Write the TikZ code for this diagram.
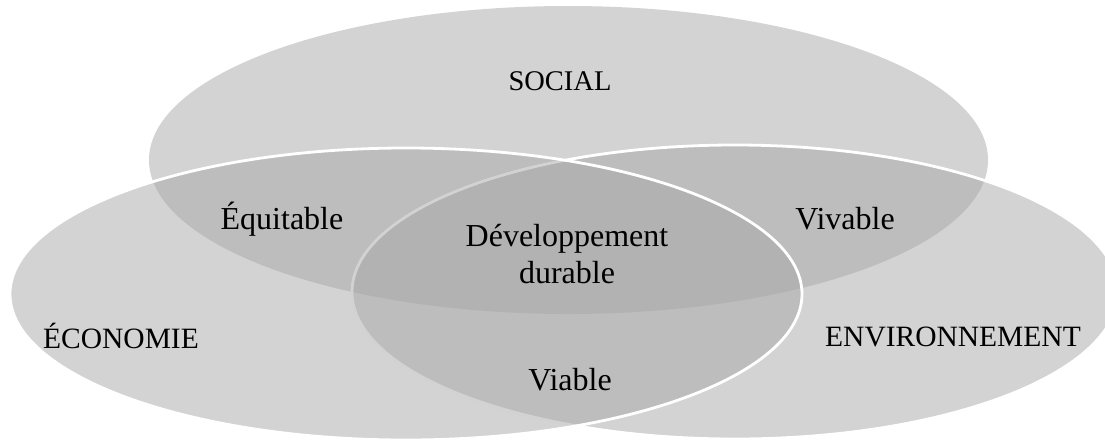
\documentclass[tikz,border=0pt]{standalone}
\usepackage{fontspec}
\setmainfont{Liberation Serif}
\definecolor{setgray}{RGB}{167,167,167}
\tikzset{
  setfill/.style={fill=setgray, fill opacity=0.5},
  rim/.style={draw=white, line width=2.8pt},
  lbl/.style={anchor=base, inner sep=0pt, text=black},
  caps/.style={font=\fontsize{29.5}{34}\selectfont},
  big/.style={font=\fontsize{32}{36}\selectfont},
}
\begin{document}
\begin{tikzpicture}[x=1pt,y=-1pt]
\useasboundingbox (0,0) rectangle (1105,439);
\clip (0,0) rectangle (1105,439);
% SOCIAL
\fill[setfill] (568.5,160) ellipse [x radius=419.5, y radius=154];
% ENVIRONNEMENT
\fill[setfill] (735,292) ellipse [x radius=383, y radius=147];
\draw[rim] (735,292) ellipse [x radius=383, y radius=147];
% ECONOMIE
\fill[setfill] (406,294) ellipse [x radius=396, y radius=146];
\draw[rim] (406,294) ellipse [x radius=396, y radius=146];
% labels
\node[lbl, caps, font=\fontsize{28.5}{34}\selectfont] (social) at (560,90) {SOCIAL};
\node[lbl, caps] (eco) at (121,348) {ÉCONOMIE};
\node[lbl, caps] (env) at (953,346) {ENVIRONNEMENT};
\node[lbl, big] (equ) at (282,229) {Équitable};
\node[lbl, big] (viv) at (845,229) {Vivable};
\node[lbl, big] (dev) at (567,246) {Développement};
\node[lbl, big] (dur) at (567,283) {durable};
\node[lbl, big] (via) at (570,390) {Viable};
\end{tikzpicture}
\end{document}
